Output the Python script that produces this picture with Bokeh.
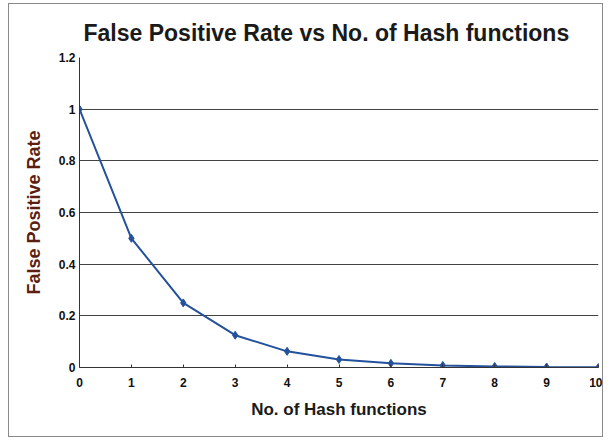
from bokeh.plotting import figure
from bokeh.embed import file_html
from bokeh.resources import INLINE
from bokeh.models import FixedTicker, Range1d

hash_functions = [0, 1, 2, 3, 4, 5, 6, 7, 8, 9, 10]
false_positive_rate = [1.0, 0.5, 0.25, 0.125, 0.0625, 0.031, 0.016, 0.008, 0.004, 0.002, 0.001]
y_ticks = [0, 0.2, 0.4, 0.6, 0.8, 1.0, 1.2]
y_tick_labels = ["0", "0.2", "0.4", "0.6", "0.8", "1", "1.2"]
x_ticks = [0, 1, 2, 3, 4, 5, 6, 7, 8, 9, 10]

FONT = "Liberation Sans"

p = figure(width=595, height=434, output_backend="svg", toolbar_location=None,
           x_range=Range1d(0, 10), y_range=Range1d(0, 1.2),
           min_border_left=70, min_border_right=6, min_border_top=53, min_border_bottom=71)
p.styles = {"border": "1px solid #8a8a8a", "box-sizing": "border-box",
            "margin-left": "8px", "margin-top": "3px"}

p.title.text = "False Positive Rate vs No. of Hash functions"
p.title.align = "left"
p.title.text_font = FONT
p.title.text_font_size = "23px"
p.title.text_font_style = "bold"
p.title.text_color = "#1a1a1a"
p.title.standoff = 24
p.title.offset = 4

p.outline_line_color = None
p.xgrid.grid_line_color = None
p.ygrid.grid_line_color = "#222222"
p.ygrid.grid_line_width = 1
p.ygrid.grid_line_alpha = 0.85

p.yaxis.ticker = FixedTicker(ticks=y_ticks)
p.yaxis.major_label_overrides = {t: l for t, l in zip(y_ticks, y_tick_labels)}
p.xaxis.ticker = FixedTicker(ticks=x_ticks)

for ax in (p.xaxis, p.yaxis):
    ax.axis_line_color = "#333333"
    ax.major_tick_line_color = "#333333"
    ax.minor_tick_line_color = None
    ax.major_label_text_font = FONT
    ax.major_label_text_font_size = "12px"
    ax.major_label_text_font_style = "bold"
    ax.major_label_text_color = "#111111"
    ax.axis_label_text_font = FONT
    ax.axis_label_text_font_style = "bold"

p.xaxis.major_tick_in = 3
p.xaxis.major_tick_out = 0
p.yaxis.major_tick_in = 0
p.yaxis.major_tick_out = 0
p.yaxis.major_label_standoff = 4
p.xaxis.major_label_standoff = 10

p.xaxis.axis_label = "No. of Hash functions"
p.xaxis.axis_label_text_font_size = "17px"
p.xaxis.axis_label_text_color = "#1a1a1a"
p.yaxis.axis_label = "False Positive Rate"
p.yaxis.axis_label_text_font_size = "18px"
p.yaxis.axis_label_text_color = "#5a1e12"
p.yaxis.axis_label_standoff = 12
p.xaxis.axis_label_standoff = 10

p.line(hash_functions, false_positive_rate, line_color="#24519c", line_width=2)
p.scatter(hash_functions, false_positive_rate, marker="diamond", size=8,
          fill_color="#24519c", line_color="#24519c")

open("out.html", "w").write(file_html(p, INLINE))
